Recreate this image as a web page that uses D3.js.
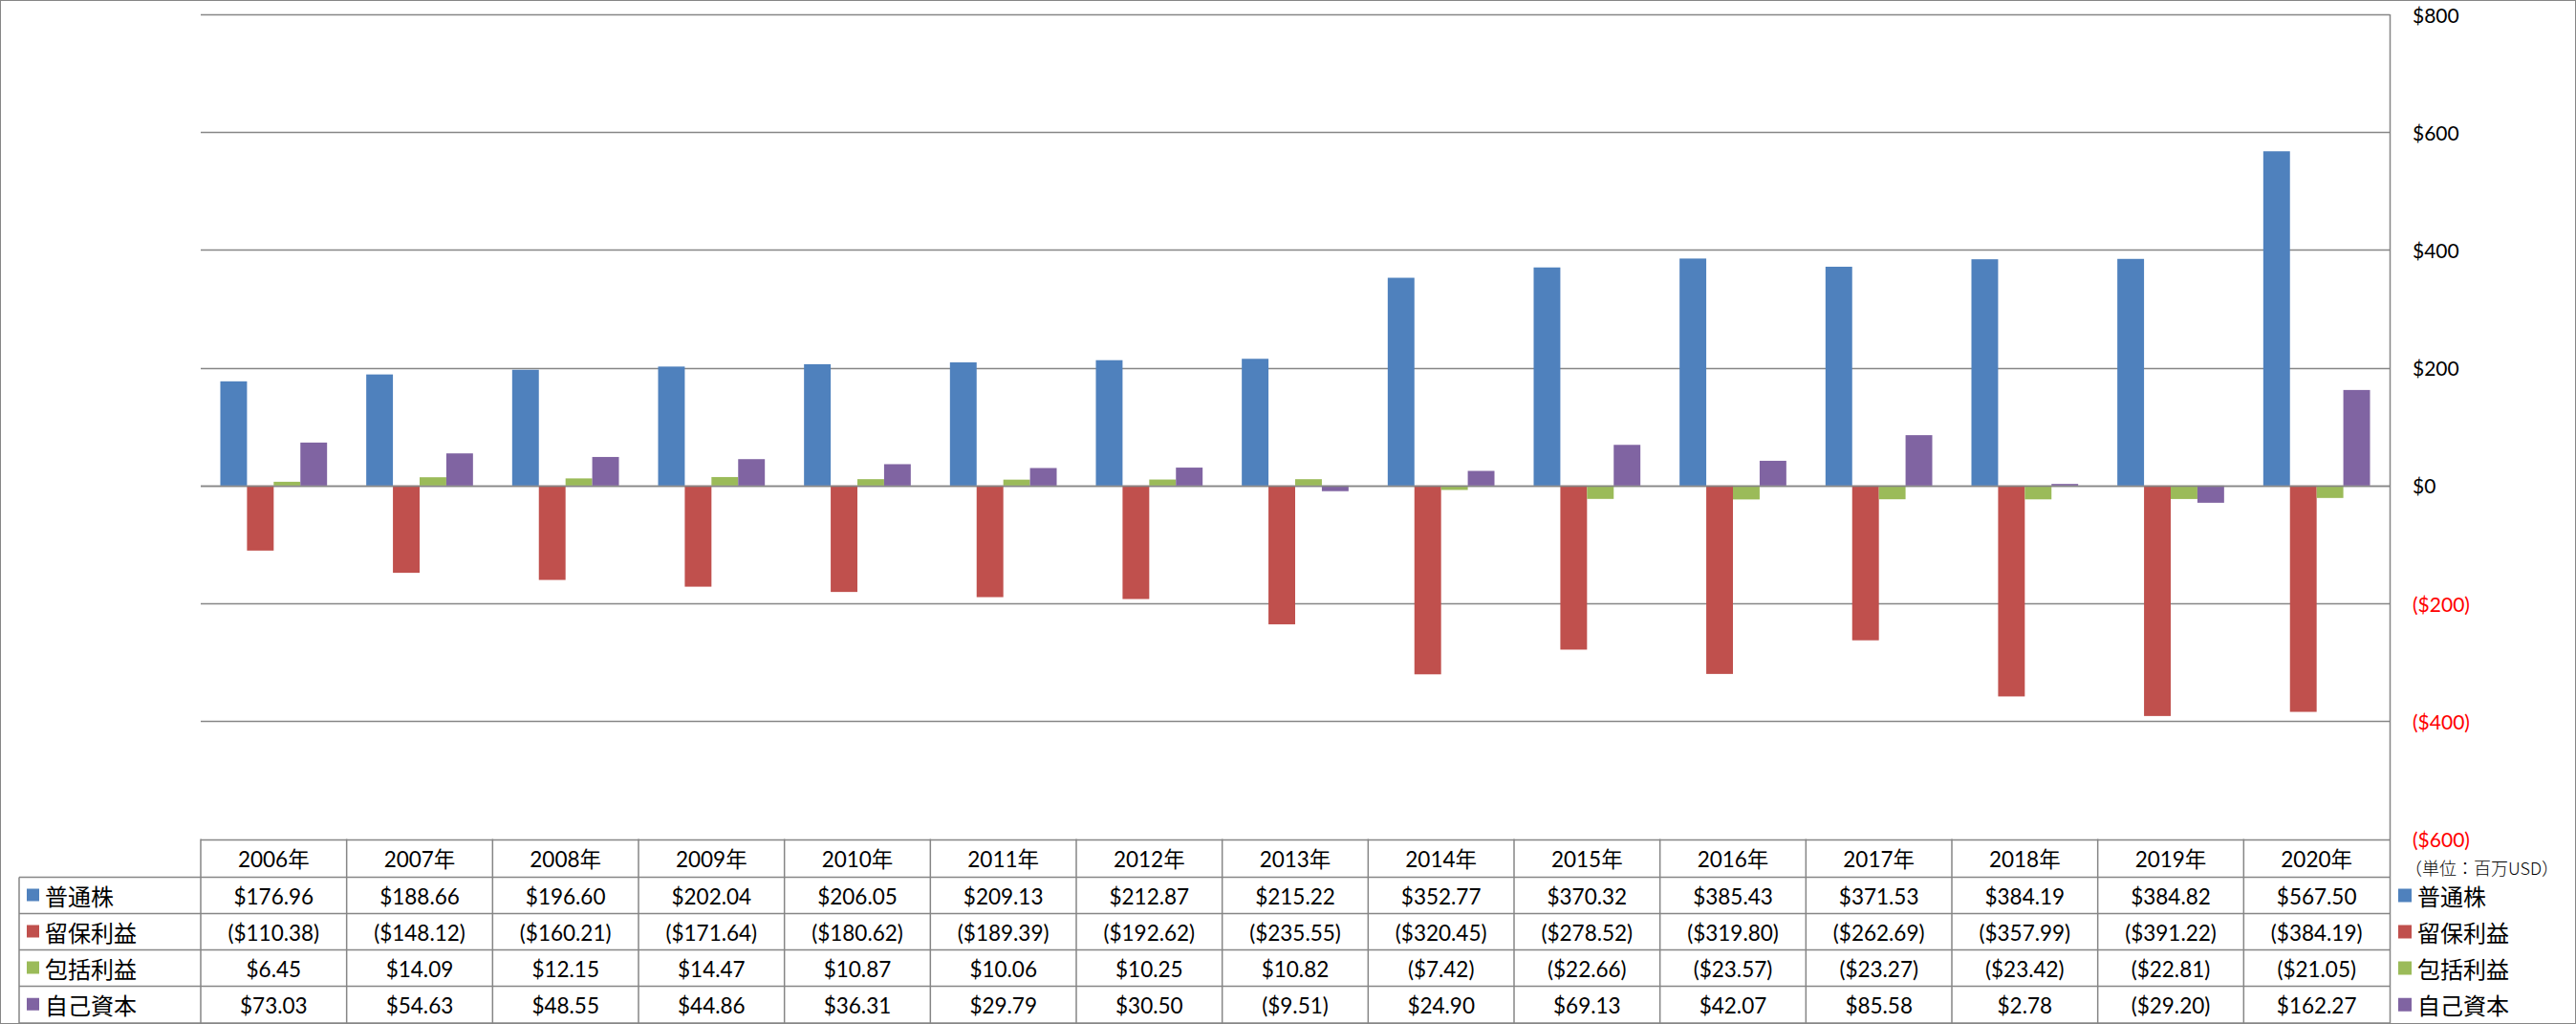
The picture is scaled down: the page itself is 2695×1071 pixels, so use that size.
<!DOCTYPE html>
<html>
<head>
<meta charset="utf-8">
<script src="https://d3js.org/d3.v7.min.js"></script>
<style>
body { margin: 0; background: #fff; }
svg { display: block; }
text { font-family: Lato, 'Noto Sans CJK JP', sans-serif; fill: #000; }
.jp { font-family: 'Noto Sans CJK JP', sans-serif; }
</style>
</head>
<body>
<svg id="chart"></svg>
<script>
// Data
var years = ["2006年","2007年","2008年","2009年","2010年","2011年","2012年","2013年","2014年","2015年","2016年","2017年","2018年","2019年","2020年"];
var seriesNames = ["普通株","留保利益","包括利益","自己資本"];
var seriesColors = ["#4F81BD","#C0504D","#9BBB59","#8064A2"];
var commonStock = [176.96,188.66,196.60,202.04,206.05,209.13,212.87,215.22,352.77,370.32,385.43,371.53,384.19,384.82,567.50];
var retainedEarnings = [-110.38,-148.12,-160.21,-171.64,-180.62,-189.39,-192.62,-235.55,-320.45,-278.52,-319.80,-262.69,-357.99,-391.22,-384.19];
var comprehensiveIncome = [6.45,14.09,12.15,14.47,10.87,10.06,10.25,10.82,-7.42,-22.66,-23.57,-23.27,-23.42,-22.81,-21.05];
var equity = [73.03,54.63,48.55,44.86,36.31,29.79,30.50,-9.51,24.90,69.13,42.07,85.58,2.78,-29.20,162.27];
var yTicks = [800,600,400,200,0,-200,-400,-600];
var unitLabel = "（単位：百万USD）";

var seriesValues = [commonStock, retainedEarnings, comprehensiveIncome, equity];

var width = 2695, height = 1071;
var plotLeft = 210, plotRight = 2500, plotTop = 15, plotBottom = 877.5;
var gridColor = "#868686";

var svg = d3.select("#chart").attr("width", width).attr("height", height);

// outer border
svg.append("rect")
	.attr("x", 0.5).attr("y", 0.5)
	.attr("width", width - 1).attr("height", height - 1)
	.attr("fill", "none").attr("stroke", gridColor).attr("stroke-width", 1);

var x0 = d3.scaleBand().domain(years).range([plotLeft, plotRight]).padding(0);
var x1 = d3.scaleBand().domain(d3.range(4)).range([0, x0.bandwidth()]).paddingInner(0).paddingOuter(0.734);
var y = d3.scaleLinear().domain([-600, 800]).range([plotBottom, plotTop]);

// gridlines
svg.append("g").selectAll("line").data(yTicks).join("line")
	.attr("x1", plotLeft).attr("x2", plotRight)
	.attr("y1", function (d) { return Math.round(y(d)) + 0.5; })
	.attr("y2", function (d) { return Math.round(y(d)) + 0.5; })
	.attr("stroke", gridColor).attr("stroke-width", 1.5);

// right axis line
svg.append("line")
	.attr("x1", plotRight + 0.5).attr("x2", plotRight + 0.5)
	.attr("y1", plotTop).attr("y2", height - 1)
	.attr("stroke", gridColor).attr("stroke-width", 1.5);

// tick labels
svg.append("g").selectAll("text").data(yTicks).join("text")
	.attr("x", plotRight + 24)
	.attr("y", function (d) { return y(d); })
	.attr("dominant-baseline", "central")
	.style("font-size", "21px")
	.style("fill", function (d) { return d < 0 ? "#FF0000" : "#000"; })
	.text(function (d) { return d < 0 ? "($" + (-d) + ")" : "$" + d; });

// bars
var groups = svg.append("g").selectAll("g").data(years).join("g")
	.attr("transform", function (d) { return "translate(" + x0(d) + ",0)"; });

groups.selectAll("rect")
	.data(function (d, i) { return seriesValues.map(function (s, k) { return { k: k, v: s[i] }; }); })
	.join("rect")
	.attr("x", function (d) { return x1(d.k); })
	.attr("width", x1.bandwidth())
	.attr("y", function (d) { return y(Math.max(0, d.v)); })
	.attr("height", function (d) { return Math.abs(y(d.v) - y(0)); })
	.attr("fill", function (d) { return seriesColors[d.k]; });

// redraw zero line on top
svg.append("line")
	.attr("x1", plotLeft).attr("x2", plotRight)
	.attr("y1", Math.round(y(0)) + 0.5).attr("y2", Math.round(y(0)) + 0.5)
	.attr("stroke", gridColor).attr("stroke-width", 1.5);

// data table
var tableTop = plotBottom;
var rowH = [40, 38, 38, 38, 38.5];
var rowY = [tableTop];
for (var r = 0; r < rowH.length; r++) { rowY.push(rowY[r] + rowH[r]); }
var labelLeft = 20;
var table = svg.append("g");

// horizontal lines
for (var r = 1; r < rowY.length; r++) {
	table.append("line")
		.attr("x1", labelLeft).attr("x2", plotRight)
		.attr("y1", rowY[r]).attr("y2", rowY[r])
		.attr("stroke", gridColor).attr("stroke-width", 1.5);
}
// vertical lines
table.append("line")
	.attr("x1", labelLeft).attr("x2", labelLeft)
	.attr("y1", rowY[1]).attr("y2", rowY[5])
	.attr("stroke", gridColor).attr("stroke-width", 1.5);
years.forEach(function (yr) {
	table.append("line")
		.attr("x1", x0(yr)).attr("x2", x0(yr))
		.attr("y1", rowY[0]).attr("y2", rowY[5])
		.attr("stroke", gridColor).attr("stroke-width", 1.5);
});

// header
table.selectAll("text.year").data(years).join("text").attr("class", "year")
	.attr("x", function (d) { return x0(d) + x0.bandwidth() / 2; })
	.attr("y", (rowY[0] + rowY[1]) / 2 + 1)
	.attr("text-anchor", "middle").attr("dominant-baseline", "central")
	.style("font-size", "22.5px")
	.text(function (d) { return d; });

function fmt(v) {
	var s = "$" + Math.abs(v).toFixed(2);
	return v < 0 ? "(" + s + ")" : s;
}

seriesNames.forEach(function (name, k) {
	var cy = (rowY[k + 1] + rowY[k + 2]) / 2;
	table.append("rect")
		.attr("x", 28).attr("y", cy - 7).attr("width", 13).attr("height", 13)
		.attr("fill", seriesColors[k]);
	table.append("text").attr("class", "jp")
		.attr("x", 47).attr("y", cy)
		.attr("dominant-baseline", "central")
		.style("font-size", "24px")
		.text(name);
	table.append("g").selectAll("text").data(seriesValues[k]).join("text")
		.attr("x", function (d, i) { return x0(years[i]) + x0.bandwidth() / 2; })
		.attr("y", cy + 1)
		.attr("text-anchor", "middle").attr("dominant-baseline", "central")
		.style("font-size", "22.5px")
		.text(fmt);

	// legend on the right
	table.append("rect")
		.attr("x", 2509).attr("y", cy - 7).attr("width", 14).attr("height", 14)
		.attr("fill", seriesColors[k]);
	table.append("text").attr("class", "jp")
		.attr("x", 2529).attr("y", cy)
		.attr("dominant-baseline", "central")
		.style("font-size", "24px")
		.text(name);
});

svg.append("text").attr("class", "jp")
	.attr("x", 2516).attr("y", 907)
	.attr("dominant-baseline", "central")
	.style("font-size", "18px").style("font-weight", "300")
	.text(unitLabel);
</script>
</body>
</html>
